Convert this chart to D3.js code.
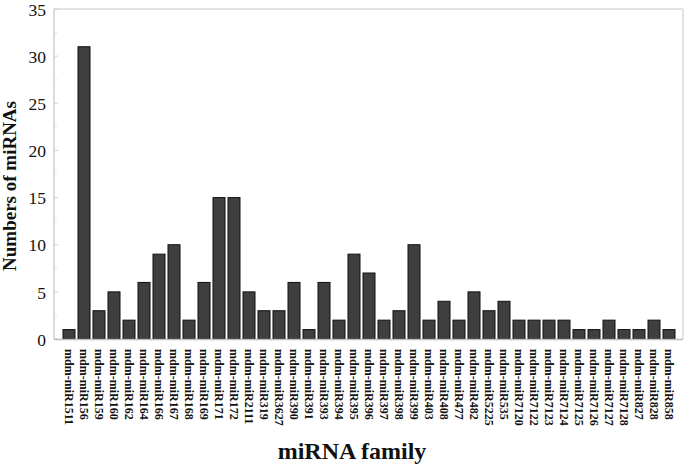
<!DOCTYPE html>
<html><head><meta charset="utf-8">
<script src="https://cdn.jsdelivr.net/npm/d3@7"></script>
<style>body{margin:0;background:#fff}svg{display:block}</style>
</head><body>
<script>
const categories = ["mdm-miR1511","mdm-miR156","mdm-miR159","mdm-miR160","mdm-miR162","mdm-miR164","mdm-miR166","mdm-miR167","mdm-miR168","mdm-miR169","mdm-miR171","mdm-miR172","mdm-miR2111","mdm-miR319","mdm-miR3627","mdm-miR390","mdm-miR391","mdm-miR393","mdm-miR394","mdm-miR395","mdm-miR396","mdm-miR397","mdm-miR398","mdm-miR399","mdm-miR403","mdm-miR408","mdm-miR477","mdm-miR482","mdm-miR5225","mdm-miR535","mdm-miR7120","mdm-miR7122","mdm-miR7123","mdm-miR7124","mdm-miR7125","mdm-miR7126","mdm-miR7127","mdm-miR7128","mdm-miR827","mdm-miR828","mdm-miR858"];
const counts = [1,31,3,5,2,6,9,10,2,6,15,15,5,3,3,6,1,6,2,9,7,2,3,10,2,4,2,5,3,4,2,2,2,2,1,1,2,1,1,2,1];
const yTicks = [0,5,10,15,20,25,30,35];
const yMinor = [2.5,7.5,12.5,17.5,22.5,27.5,32.5];

(function(){
const W=685,H=464;
const pL=54,pR=683,pT=9,pB=339;
const svg=d3.select("body").append("svg").attr("width",W).attr("height",H);
const x=d3.scaleBand().domain(categories).range([61.5,676.5]).paddingInner(0.2).paddingOuter(0.1);
const y=d3.scaleLinear().domain([0,35]).range([pB,pT]);
const serif='"Liberation Serif","Times New Roman",serif';

// frame
svg.append("line").attr("x1",pL).attr("x2",pR).attr("y1",pT).attr("y2",pT).attr("stroke","#d9d9d9").attr("stroke-width",1.5);
svg.append("line").attr("x1",pR).attr("x2",pR).attr("y1",pT).attr("y2",pB).attr("stroke","#d9d9d9").attr("stroke-width",1.5);

// bars
svg.append("g").selectAll("rect").data(categories).join("rect")
  .attr("x",d=>x(d)).attr("width",x.bandwidth())
  .attr("y",(d,i)=>y(counts[i])).attr("height",(d,i)=>y(0)-y(counts[i]))
  .attr("fill","#3f3f3f").attr("stroke","#111").attr("stroke-width",1);

// y axis
const ya=svg.append("g").attr("transform",`translate(${pL},0)`);
ya.append("line").attr("y1",pT).attr("y2",pB).attr("stroke","#cfcfcf").attr("stroke-width",1.5);
ya.selectAll(".mj").data(yTicks).join("line").attr("class","mj").attr("x1",0).attr("x2",4).attr("y1",d=>y(d)).attr("y2",d=>y(d)).attr("stroke","#d0d0d0");
ya.selectAll(".mn").data(yMinor).join("line").attr("class","mn").attr("x1",0).attr("x2",3).attr("y1",d=>y(d)).attr("y2",d=>y(d)).attr("stroke","#e0e0e0");
ya.selectAll("text").data(yTicks).join("text").attr("x",-8).attr("y",d=>y(d)).attr("dy","0.38em")
  .attr("text-anchor","end").attr("font-family",serif).attr("font-size",17.5).attr("fill","#111").text(d=>d);

// x axis line
svg.append("line").attr("x1",pL).attr("x2",pR).attr("y1",pB+0.5).attr("y2",pB+0.5).attr("stroke","#bdbdbd").attr("stroke-width",1.5);

// x labels
svg.append("g").selectAll("text").data(categories).join("text")
  .attr("transform",d=>`translate(${x(d)+x.bandwidth()/2},${pB+10}) rotate(90)`)
  .attr("dy","0.35em").attr("text-anchor","start")
  .attr("font-family",serif).attr("font-weight","bold").attr("font-size",12).attr("fill","#111").text(d=>d);

// titles
svg.append("text").attr("transform",`translate(16,186) rotate(-90)`).attr("text-anchor","middle")
  .attr("font-family",serif).attr("font-weight","bold").attr("font-size",19).attr("fill","#111").text("Numbers of miRNAs");
svg.append("text").attr("x",352).attr("y",459).attr("text-anchor","middle")
  .attr("font-family",serif).attr("font-weight","bold").attr("font-size",24).attr("fill","#111").text("miRNA family");
})();
</script>
</body></html>
